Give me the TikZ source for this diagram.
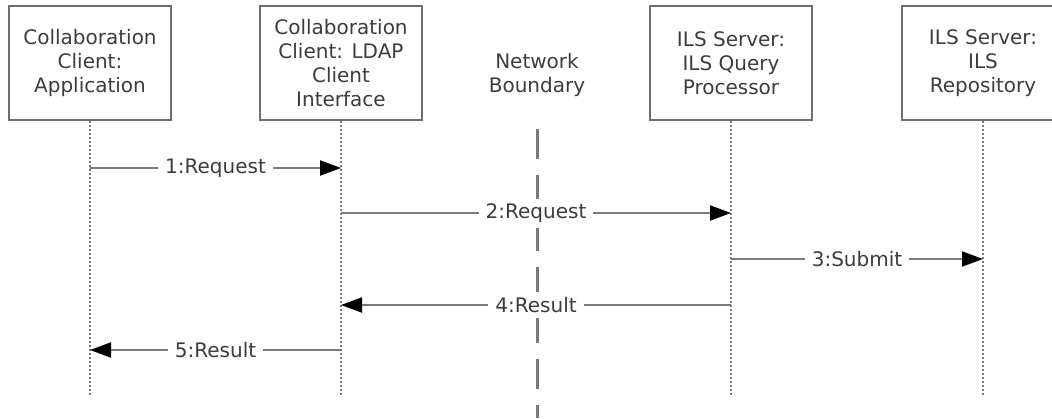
\documentclass[tikz,border=0pt]{standalone}
\usepackage{fontspec}
\setmainfont{DejaVu Sans}
\usetikzlibrary{arrows.meta}

\definecolor{linegray}{HTML}{7A7A7A}
\definecolor{boxgray}{HTML}{6E6E6E}
\definecolor{textgray}{HTML}{3C3C3C}

\tikzset{
  actor/.style={rectangle,draw=boxgray,line width=2pt,minimum width=162pt,minimum height=114pt,
    align=center,text=textgray,font=\fontsize{20}{24}\selectfont},
  lifeline/.style={draw=linegray,line width=2.5pt,dash pattern=on 2pt off 2pt},
  msg/.style={draw=linegray,line width=2pt,-{Triangle[length=21pt,width=15pt,color=black]}},
  msglabel/.style={fill=white,text=textgray,inner xsep=7pt,inner ysep=5pt,font=\fontsize{20}{24}\selectfont},
  boundary/.style={draw=linegray,line width=3pt,dash pattern=on 30pt off 16pt}
}

\begin{document}
\begin{tikzpicture}[x=1pt,y=-1pt]

      \useasboundingbox (0,0) rectangle (1052,418);

      \node[actor] (app) at (90,63){Collaboration\\Client:\\Application};
      \node[actor] (ldap) at (341,63){Collaboration\\Client: LDAP\\Client\\Interface};
      \node[align=center,text=textgray,font=\fontsize{20}{24}\selectfont] (net) at (537,75){Network\\Boundary};
      \node[actor] (qp) at (731,63){ILS Server:\\ILS Query\\Processor};
      \node[actor] (repo) at (983,63){ILS Server:\\ILS\\Repository};

      % lifelines
      \draw[lifeline] (app.south) -- (app |- 0,396);
      \draw[lifeline] (ldap.south) -- (ldap |- 0,396);
      \draw[lifeline] (qp.south) -- (qp |- 0,396);
      \draw[lifeline] (repo.south) -- (repo |- 0,396);

      \draw[boundary] (net |- 0,129) -- (net |- 0,418);

      \draw[msg] (app |- 0,168) -- node[msglabel]{1:Request} (ldap |- 0,168);
      \draw[msg] (ldap |- 0,213) -- node[msglabel]{2:Request} (qp |- 0,213);
      \draw[msg] (qp |- 0,259) -- node[msglabel]{3:Submit} (repo |- 0,259);
      \draw[msg] (qp |- 0,305) -- node[msglabel]{4:Result} (ldap |- 0,305);
      \draw[msg] (ldap |- 0,350) -- node[msglabel]{5:Result} (app |- 0,350);

\end{tikzpicture}
\end{document}
